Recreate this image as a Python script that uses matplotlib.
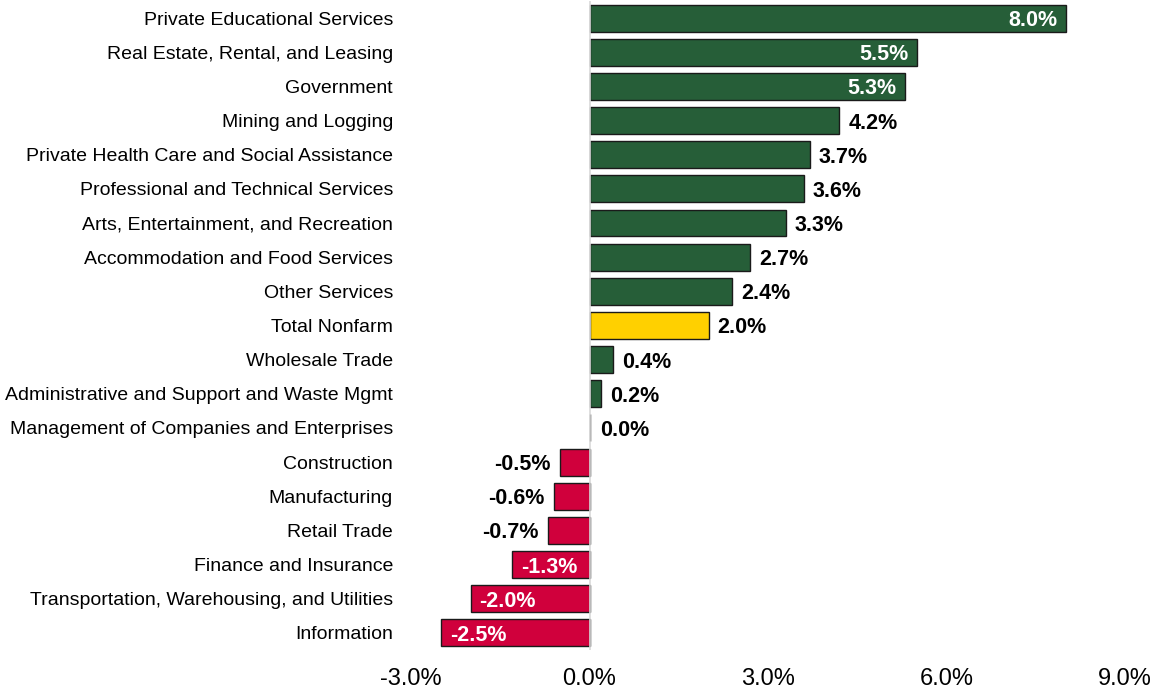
import matplotlib
matplotlib.use("Agg")
import matplotlib.pyplot as plt
from matplotlib.ticker import FuncFormatter

categories = [
    "Private Educational Services",
    "Real Estate, Rental, and Leasing",
    "Government",
    "Mining and Logging",
    "Private Health Care and Social Assistance",
    "Professional and Technical Services",
    "Arts, Entertainment, and Recreation",
    "Accommodation and Food Services",
    "Other Services",
    "Total Nonfarm",
    "Wholesale Trade",
    "Administrative and Support and Waste Mgmt",
    "Management of Companies and Enterprises",
    "Construction",
    "Manufacturing",
    "Retail Trade",
    "Finance and Insurance",
    "Transportation, Warehousing, and Utilities",
    "Information",
]
values = [8.0, 5.5, 5.3, 4.2, 3.7, 3.6, 3.3, 2.7, 2.4, 2.0, 0.4, 0.2, 0.0,
          -0.5, -0.6, -0.7, -1.3, -2.0, -2.5]
inside = [True, True, True] + [False] * 13 + [True, True, True]
x_ticks = [-3, 0, 3, 6, 9]

GREEN = "#265E38"
YELLOW = "#FFD000"
RED = "#D0003C"

plt.rcParams['font.family'] = ['Liberation Sans', 'DejaVu Sans']

fig = plt.figure(figsize=(11.52, 6.9), dpi=100)
ax = fig.add_axes([0.3568, 0.058, 0.6198, 0.9406])

colors = []
for c, v in zip(categories, values):
    if c == "Total Nonfarm":
        colors.append(YELLOW)
    elif v >= 0:
        colors.append(GREEN)
    else:
        colors.append(RED)

ypos = list(range(len(categories)))
ax.barh(ypos, values, height=0.79, color=colors, edgecolor="#1a1a1a", linewidth=1.0, zorder=2)
ax.axvline(0, color="#D9D9D9", linewidth=1.2, zorder=3)

VS = 15.5
for y, v, ins in zip(ypos, values, inside):
    txt = f"{v:.1f}%"
    kw = dict(va="center_baseline", fontsize=VS, fontweight="bold", zorder=4)
    if ins:
        if v > 0:
            ax.text(v - 0.14, y, txt, ha="right", color="white", **kw)
        else:
            ax.text(v + 0.15, y, txt, ha="left", color="white", **kw)
    else:
        if v >= 0:
            ax.text(v + 0.15 if v > 0 else 0.17, y, txt, ha="left", color="black", **kw)
        else:
            ax.text(v - 0.15, y, txt, ha="right", color="black", **kw)

ax.set_xlim(-3, 9)
ax.set_ylim(len(categories) - 0.5, -0.5)
ax.set_xticks(x_ticks)
ax.xaxis.set_major_formatter(FuncFormatter(lambda x, p: f"{x:.1f}%"))
ax.set_yticks(ypos)
ax.set_yticklabels(categories)
ax.tick_params(axis="y", length=0, pad=13, labelsize=14)
ax.tick_params(axis="x", length=0, pad=13, labelsize=17)
for s in ax.spines.values():
    s.set_visible(False)

fig.savefig("out.png", dpi=100)
